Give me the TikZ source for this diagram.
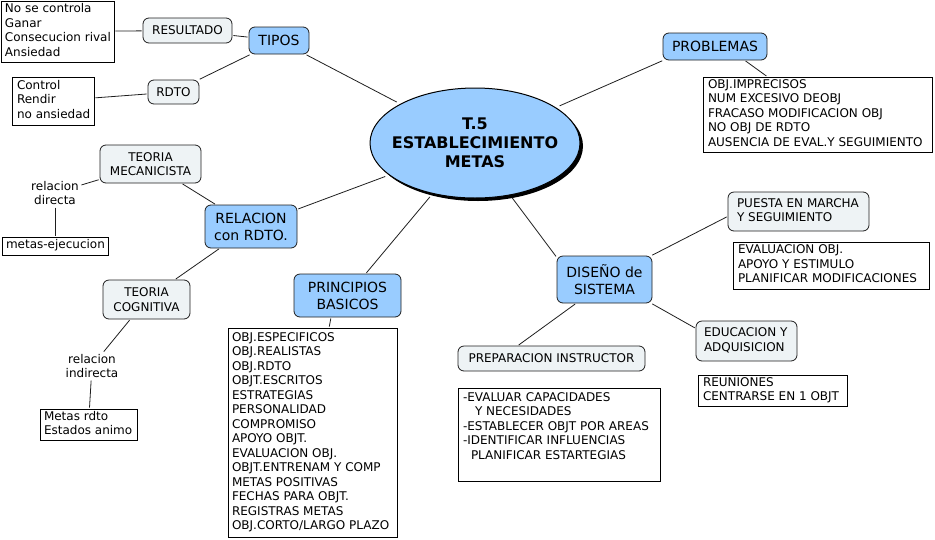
\documentclass[tikz,border=0pt]{standalone}
\usepackage{fontspec}
\setmainfont{DejaVu Sans}
\usetikzlibrary{shapes.geometric,shadows}
\definecolor{cblue}{RGB}{153,204,255}
\definecolor{clight}{RGB}{238,243,245}
\definecolor{cline}{RGB}{30,30,30}
\newcommand\leftlines[2]{\makebox[#1][l]{\begin{tabular}{@{}l@{}}#2\end{tabular}}}
\tikzset{
  smallfont/.style={font=\fontsize{12}{14.5}\selectfont},
  bluebox/.style={rectangle, rounded corners=6pt, draw=cline, line width=0.8pt, fill=cblue,
    font=\fontsize{14}{17}\selectfont, align=center, inner sep=0pt},
  lightbox/.style={rectangle, rounded corners=6pt, draw=cline, line width=0.8pt, fill=clight,
    smallfont, align=center, inner sep=0pt},
  listbox/.style={rectangle, draw=black, line width=0.8pt, fill=white, smallfont,
    inner xsep=5pt, inner ysep=0pt},
  lab/.style={smallfont, align=center, inner sep=1.5pt},
  conn/.style={draw=cline, line width=0.8pt, shorten >=1pt, shorten <=1pt},
}
\begin{document}
\begin{tikzpicture}[x=1pt,y=-1pt]
\useasboundingbox (0,0) rectangle (935,539);

% central
\node[ellipse, draw=black, line width=1pt, fill=cblue, minimum width=210pt, minimum height=110pt,
  drop shadow={shadow xshift=3pt, shadow yshift=-3pt, fill=black, opacity=1},
  inner sep=0pt] (cen) at (475,143) {};
\node[font=\bfseries\fontsize{16}{19}\selectfont, align=center, inner sep=0pt] (centxt) at (cen)
  {T.5\\ESTABLECIMIENTO\\METAS};

% TIPOS branch
\node[bluebox, minimum width=60pt, minimum height=27pt] (tipos) at (279,40.5) {TIPOS};
\node[lightbox, minimum width=89pt, minimum height=25pt] (res) at (187.5,30.5) {RESULTADO};
\node[lightbox, minimum width=51pt, minimum height=24pt] (rdto) at (173.5,92) {RDTO};
\node[listbox, inner xsep=4pt, minimum height=61pt] (nosebox) at (57.5,31.5)
  {\leftlines{105pt}{No se controla\\Ganar\\Consecucion rival\\Ansiedad}};
\node[listbox, minimum height=48pt] (ctrlbox) at (53,101)
  {\leftlines{72pt}{Control\\Rendir\\no ansiedad}};

% PROBLEMAS branch
\node[bluebox, minimum width=104pt, minimum height=27pt] (prob) at (715,46.5) {PROBLEMAS};
\node[listbox, minimum height=75pt] (problist) at (817.5,114.5)
  {\leftlines{219pt}{OBJ.IMPRECISOS\\NUM EXCESIVO DEOBJ\\FRACASO MODIFICACION OBJ\\NO OBJ DE RDTO\\AUSENCIA DE EVAL.Y SEGUIMIENTO}};

% RELACION branch
\node[bluebox, minimum width=92pt, minimum height=43pt] (rel) at (251,226.5) {RELACION\\con RDTO.};
\node[lightbox, minimum width=101pt, minimum height=38pt] (mec) at (150.5,164) {TEORIA\\MECANICISTA};
\node[lab] (ldir) at (55,193) {relacion\\directa};
\node[listbox, inner xsep=4pt, minimum height=18pt] (metej) at (55,246) {\leftlines{98pt}{metas-ejecucion}};
\node[lightbox, minimum width=87pt, minimum height=39pt] (cog) at (146.5,299.5) {TEORIA\\COGNITIVA};
\node[lab] (lind) at (92,366) {relacion\\indirecta};
\node[listbox, inner xsep=4pt, minimum height=31pt] (metrd) at (88.5,424.5)
  {\leftlines{89pt}{Metas rdto\\Estados animo}};

% PRINCIPIOS branch
\node[bluebox, minimum width=107pt, minimum height=43pt] (prin) at (347.5,295.5) {PRINCIPIOS\\BASICOS};
\node[listbox, inner xsep=4pt, minimum height=209pt] (prinlist) at (312.5,432.5)
  {\leftlines{161pt}{OBJ.ESPECIFICOS\\OBJ.REALISTAS\\OBJ.RDTO\\OBJT.ESCRITOS\\ESTRATEGIAS\\PERSONALIDAD\\COMPROMISO\\APOYO OBJT.\\EVALUACION OBJ.\\OBJT.ENTRENAM Y COMP\\METAS POSITIVAS\\FECHAS PARA OBJT.\\REGISTRAS METAS\\OBJ.CORTO/LARGO PLAZO}};

% DISENO branch
\node[bluebox, minimum width=95pt, minimum height=47pt] (dis) at (604.5,279.5) {DISEÑO de\\SISTEMA};
\node[lightbox, inner xsep=9pt, minimum height=39pt] (puesta) at (798.5,211.5)
  {\leftlines{123pt}{PUESTA EN MARCHA\\Y SEGUIMIENTO}};
\node[listbox, minimum height=47pt] (evalbox) at (831,265.5)
  {\leftlines{186pt}{EVALUACION OBJ.\\APOYO Y ESTIMULO\\PLANIFICAR MODIFICACIONES}};
\node[lightbox, inner xsep=8pt, minimum height=40pt] (edu) at (746.5,341)
  {\leftlines{85pt}{EDUCACION Y\\ADQUISICION}};
\node[listbox, minimum height=31pt] (reun) at (772.5,390.5)
  {\leftlines{139pt}{REUNIONES\\CENTRARSE EN 1 OBJT}};
\node[lightbox, minimum width=187pt, minimum height=25pt] (prep) at (551.5,358.5) {PREPARACION INSTRUCTOR};
\node[listbox, minimum height=93pt] (evalu) at (559,434.5)
  {\leftlines{192pt}{-EVALUAR CAPACIDADES\\\hspace*{12pt}Y NECESIDADES\\-ESTABLECER OBJT POR AREAS\\-IDENTIFICAR INFLUENCIAS\\\hspace*{8pt}PLANIFICAR ESTARTEGIAS\\ \mbox{}}};

% connectors
\draw[conn, shorten >=4pt] (tipos) -- (cen);
\draw[conn] (res) -- (tipos);
\draw[conn] (rdto) -- (tipos);
\draw[conn] (nosebox) -- (res);
\draw[conn] (ctrlbox) -- (rdto);
\draw[conn, shorten >=4pt] (prob.195) -- (cen);
\draw[conn] (prob.-25) -- (problist.143);
\draw[conn, shorten <=4pt] (cen) -- (rel);
\draw[conn] (mec) -- (rel);
\draw[conn] (ldir) -- (mec);
\draw[conn] (ldir) -- (metej);
\draw[conn] (rel) -- (cog);
\draw[conn] (cog) -- (lind);
\draw[conn] (lind) -- (metrd);
\draw[conn, shorten <=4pt] (cen) -- (prin);
\draw[conn] (prin.-127) -- (prinlist.81);
\draw[conn, shorten <=3pt] (cen.-56) -- (dis.155);
\draw[conn] (dis.27) -- (puesta.184);
\draw[conn] (dis.-27) -- (edu.166);
\draw[conn] (dis.-140) -- (prep.159);
\end{tikzpicture}
\end{document}
